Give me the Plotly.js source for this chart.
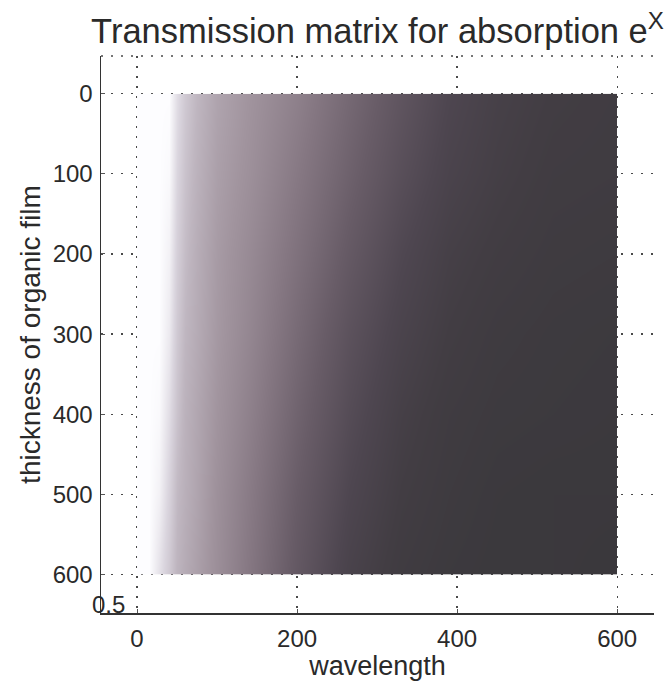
<!DOCTYPE html>
<html>
<head>
<meta charset="utf-8">
<script src="https://cdn.plot.ly/plotly-3.0.1.min.js"></script>
<style>
  html, body { margin: 0; padding: 0; background: #ffffff; }
  #chart { width: 669px; height: 681px; }
</style>
</head>
<body>
<div id="chart"></div>
<script>
// Wavelength sample positions (columns of the transmission grid)
const wavelength = [0, 15, 28, 40, 50, 60, 75, 100, 140, 200, 265, 330, 390, 450, 520, 600];

// Film thickness sample positions (rows of the transmission grid)
const thickness = [0, 100, 200, 300, 400, 500, 600];

// Relative transmission level per thickness row (1 = fully transmitted)
const tRow0   = [1.00, 1.00, 1.00, 1.00, 0.92, 0.86, 0.80, 0.72, 0.65, 0.55, 0.42, 0.30, 0.20, 0.14, 0.10, 0.08];
const tRow100 = [1.00, 1.00, 1.00, 0.99, 0.90, 0.84, 0.78, 0.70, 0.63, 0.51, 0.38, 0.26, 0.17, 0.12, 0.08, 0.07];
const tRow200 = [1.00, 1.00, 1.00, 0.97, 0.88, 0.82, 0.76, 0.68, 0.60, 0.47, 0.33, 0.21, 0.13, 0.09, 0.06, 0.05];
const tRow300 = [1.00, 1.00, 1.00, 0.95, 0.86, 0.80, 0.75, 0.67, 0.58, 0.43, 0.28, 0.17, 0.10, 0.06, 0.04, 0.03];
const tRow400 = [1.00, 1.00, 0.99, 0.92, 0.84, 0.78, 0.73, 0.65, 0.55, 0.39, 0.24, 0.13, 0.07, 0.04, 0.03, 0.02];
const tRow500 = [1.00, 1.00, 0.97, 0.89, 0.81, 0.77, 0.72, 0.63, 0.52, 0.35, 0.20, 0.10, 0.05, 0.02, 0.01, 0.01];
const tRow600 = [1.00, 1.00, 0.93, 0.86, 0.79, 0.75, 0.70, 0.62, 0.50, 0.32, 0.16, 0.07, 0.03, 0.01, 0.01, 0.00];

// Tick values / labels
const xTicks = [0, 200, 400, 600];
const yTicks = [0, 100, 200, 300, 400, 500, 600];

// Dark-to-white grey map with a faint mauve tint
const greyMap = [
  [0.00, '#3a383c'],
  [0.10, '#423d43'],
  [0.20, '#4e4650'],
  [0.35, '#685c67'],
  [0.50, '#857782'],
  [0.65, '#a1949e'],
  [0.80, '#bfb6c0'],
  [0.90, '#dad5de'],
  [1.00, '#fdfdff']
];

const transmission = [tRow0, tRow100, tRow200, tRow300, tRow400, tRow500, tRow600];

const gridDot = '#4a4a4a';
const fontFam = 'Liberation Sans, Arial, Helvetica, sans-serif';
const textCol = '#2a2a2a';

const trace = {
  type: 'contour',
  x: wavelength,
  y: thickness,
  z: transmission,
  zmin: 0,
  zmax: 1,
  colorscale: greyMap,
  showscale: false,
  zsmooth: 'best',
  contours: { coloring: 'heatmap', showlines: false },
  line: { width: 0 },
  hoverinfo: 'skip'
};

const axisCommon = {
  showline: true,
  linecolor: '#333333',
  linewidth: 1.5,
  mirror: false,
  showgrid: true,
  gridcolor: gridDot,
  gridwidth: 1.3,
  griddash: '2px,8px',
  zeroline: false,
  ticks: 'inside',
  ticklen: 4,
  tickcolor: '#555555',
  tickfont: { family: fontFam, size: 24, color: textCol }
};

const layout = {
  width: 669,
  height: 681,
  margin: { l: 101, r: 15, t: 56, b: 68 },
  paper_bgcolor: '#ffffff',
  plot_bgcolor: '#ffffff',
  font: { family: fontFam, color: textCol },
  title: {
    text: 'Transmission matrix for absorption e<sup>X</sup>',
    font: { family: fontFam, size: 34.5, color: textCol },
    x: 0.5,
    xref: 'paper',
    xanchor: 'center',
    y: 1,
    yref: 'paper',
    yanchor: 'bottom',
    pad: { b: 13 }
  },
  xaxis: Object.assign({}, axisCommon, {
    range: [-45, 646],
    tickvals: xTicks,
    ticktext: xTicks.map(String),
    ticklabelstandoff: 4,
    title: { text: 'wavelength', font: { family: fontFam, size: 27, color: textCol }, standoff: 0 }
  }),
  yaxis: Object.assign({}, axisCommon, {
    range: [648, -47],
    tickvals: yTicks,
    ticktext: yTicks.map(String),
    ticklabelstandoff: 2,
    title: { text: 'thickness of organic film', font: { family: fontFam, size: 28, color: textCol }, standoff: 4 }
  }),
  shapes: [
    // dotted top edge of the axes box
    {
      type: 'line', xref: 'paper', yref: 'paper',
      x0: 0, x1: 1, y0: 1, y1: 1,
      line: { color: gridDot, width: 1.3, dash: '2px,8px' }
    }
  ],
  annotations: [
    {
      text: '0.5',
      xref: 'paper', yref: 'paper',
      x: 0, y: 0,
      xanchor: 'left', yanchor: 'bottom',
      xshift: -11, yshift: -7,
      showarrow: false,
      font: { family: fontFam, size: 24, color: textCol }
    }
  ]
};

Plotly.newPlot('chart', [trace], layout, { displayModeBar: false, staticPlot: true });
</script>
</body>
</html>
